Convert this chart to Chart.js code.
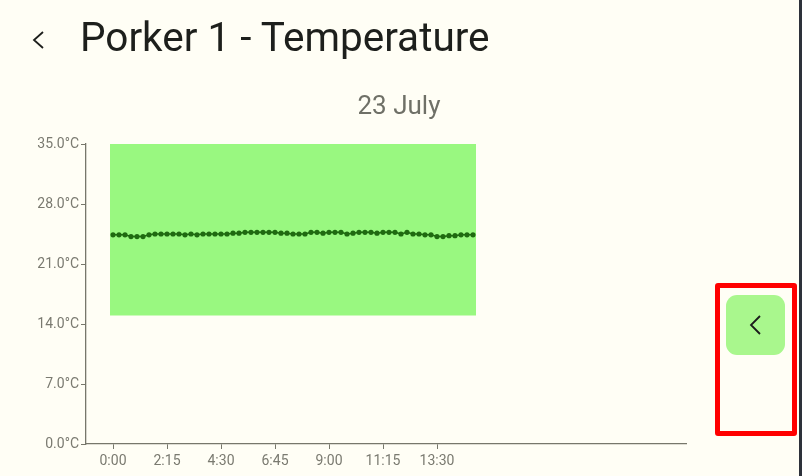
<!DOCTYPE html>
<html>
<head>
<meta charset="utf-8">
<script src="https://cdn.jsdelivr.net/npm/chart.js@4.4.1/dist/chart.umd.min.js"></script>
<style>
  html, body { margin: 0; padding: 0; }
  body { width: 802px; height: 476px; background: #fffef5; position: relative; overflow: hidden; font-family: Roboto, "Noto Sans", sans-serif; }
  #chartWrap { position: absolute; left: 0; top: 0; width: 802px; height: 476px; }
  .back { position: absolute; left: 30px; top: 30px; }
  .title { position: absolute; left: 80px; top: 13px; font-size: 40.5px; color: #1d1f1c; white-space: nowrap; }
  .date { position: absolute; left: 0; width: 798px; top: 90px; text-align: center; font-size: 26px; color: #6f7067; }
  .frame { position: absolute; left: 715px; top: 283px; width: 72px; height: 143px; border: 5px solid #ff0000; border-radius: 3px; }
  .btn { position: absolute; left: 726px; top: 295px; width: 59px; height: 60px; border-radius: 11px; background: #a9f78d; }
  .btn svg { position: absolute; left: 20px; top: 20px; }
  .edge { position: absolute; right: 0; top: 0; width: 3px; height: 476px; background: #2d313a; }
</style>
</head>
<body>
<div id="chartWrap"><canvas id="tempChart"></canvas></div>
<svg class="back" width="16" height="20" viewBox="0 0 16 20"><polyline points="13,2 4,10 13,18" fill="none" stroke="#1d1f1c" stroke-width="1.8"/></svg>
<div class="title">Porker 1 - Temperature</div>
<div class="date">23 July</div>
<div class="frame"></div>
<div class="btn"><svg width="20" height="20" viewBox="0 0 20 20"><polyline points="14,1 5,10 14,19" fill="none" stroke="#1b1b1b" stroke-width="1.8"/></svg></div>
<div class="edge"></div>
<script>
// readings every 15 minutes from 0:00
const times = [
  "0:00", "0:15", "0:30", "0:45", "1:00", "1:15", "1:30", "1:45", "2:00", "2:15",
  "2:30", "2:45", "3:00", "3:15", "3:30", "3:45", "4:00", "4:15", "4:30", "4:45",
  "5:00", "5:15", "5:30", "5:45", "6:00", "6:15", "6:30", "6:45", "7:00", "7:15",
  "7:30", "7:45", "8:00", "8:15", "8:30", "8:45", "9:00", "9:15", "9:30", "9:45",
  "10:00", "10:15", "10:30", "10:45", "11:00", "11:15", "11:30", "11:45", "12:00", "12:15",
  "12:30", "12:45", "13:00", "13:15", "13:30", "13:45", "14:00", "14:15", "14:30", "14:45",
  "15:00",
];
const temps = [
  24.4, 24.4, 24.4, 24.2, 24.2, 24.2, 24.4, 24.5, 24.5, 24.5,
  24.5, 24.5, 24.4, 24.5, 24.4, 24.5, 24.5, 24.5, 24.5, 24.5,
  24.6, 24.6, 24.7, 24.7, 24.7, 24.7, 24.7, 24.7, 24.6, 24.6,
  24.5, 24.5, 24.5, 24.7, 24.7, 24.6, 24.7, 24.7, 24.7, 24.5,
  24.6, 24.7, 24.7, 24.7, 24.6, 24.7, 24.7, 24.7, 24.5, 24.7,
  24.5, 24.5, 24.4, 24.4, 24.2, 24.2, 24.3, 24.3, 24.4, 24.4,
  24.4,
];
const tickLabels = ["0:00", "2:15", "4:30", "6:45", "9:00", "11:15", "13:30"];
const yTicks = [0, 7, 14, 21, 28, 35];
const safeRange = [15, 35]; // min / max ok temperature

const axisColor = "#77776b";
const tickColor = "#7a7a70";

const tempPoints = temps.map((v, i) => ({ x: i, y: v }));
const rangeBox = [
  { x: -0.5, y: safeRange[1] },
  { x: temps.length - 0.5, y: safeRange[1] },
];

const ctx = document.getElementById("tempChart").getContext("2d");
new Chart(ctx, {
  type: "line",
  data: {
    datasets: [
      {
        label: "Temperature",
        data: tempPoints,
        borderColor: "#1f6a10",
        backgroundColor: "#1f6a10",
        borderWidth: 1.5,
        pointRadius: 2.6,
        pointBorderWidth: 0,
        tension: 0,
        order: 1,
      },
      {
        label: "Range",
        data: rangeBox,
        borderWidth: 0,
        pointRadius: 0,
        backgroundColor: "#99f880",
        fill: { value: safeRange[0] },
        order: 2,
      },
    ],
  },
  options: {
    responsive: true,
    maintainAspectRatio: false,
    animation: false,
    layout: { padding: { top: 144, right: 116, left: 0, bottom: 0 } },
    plugins: { legend: { display: false }, title: { display: false }, tooltip: { enabled: false } },
    scales: {
      x: {
        type: "linear",
        min: -4.5,
        max: 95.5,
        afterFit: (s) => { s.height = 32; },
        afterBuildTicks: (s) => {
          s.ticks = tickLabels.map((t) => ({ value: times.indexOf(t) }));
        },
        ticks: {
          autoSkip: false,
          maxRotation: 0,
          padding: 4,
          color: tickColor,
          font: { family: "Roboto", size: 14 },
          callback: (v) => times[v],
        },
        grid: { drawOnChartArea: false, color: axisColor, tickLength: 5 },
        border: { color: axisColor, width: 1.3 },
      },
      y: {
        min: 0,
        max: 35,
        afterFit: (s) => { s.width = 86; },
        afterBuildTicks: (s) => {
          s.ticks = yTicks.map((v) => ({ value: v }));
        },
        ticks: {
          padding: 2,
          color: tickColor,
          font: { family: "Roboto", size: 14 },
          callback: (v) => v.toFixed(1) + "°C",
        },
        grid: { drawOnChartArea: false, color: axisColor, tickLength: 5 },
        border: { color: axisColor, width: 1.3 },
      },
    },
  },
});
</script>
</body>
</html>
